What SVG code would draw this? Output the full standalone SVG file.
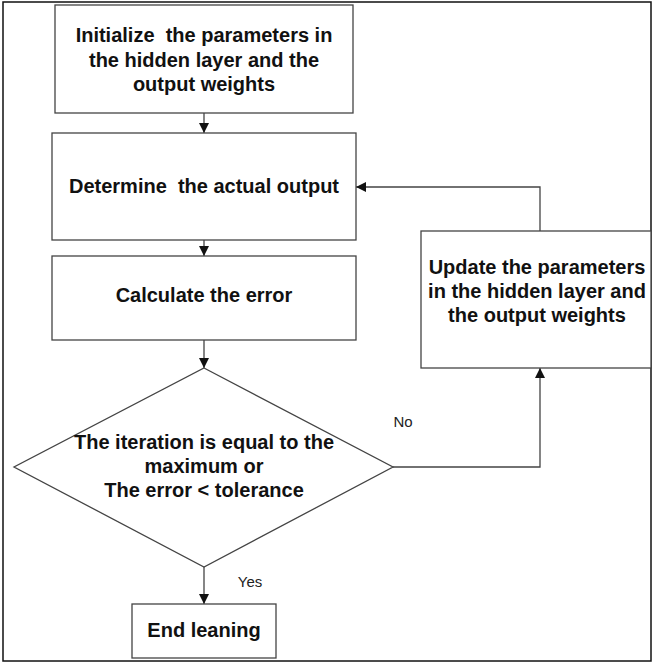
<svg xmlns="http://www.w3.org/2000/svg" width="653" height="663" viewBox="0 0 653 663">
  <style>
    .box { fill: #ffffff; stroke: #444444; stroke-width: 1.3; }
    .frame { fill: none; stroke: #111111; stroke-width: 1.5; }
    .wire { fill: none; stroke: #444444; stroke-width: 1.3; }
    .lbl { font-family: "Liberation Sans", Arial, sans-serif; font-weight: bold; font-size: 20px; fill: #111111; text-anchor: middle; white-space: pre; }
    .edge-lbl { font-family: "Liberation Sans", Arial, sans-serif; font-size: 15px; fill: #222222; text-anchor: middle; }
  </style>
  <defs>
    <marker id="arrow" viewBox="0 0 10 10" refX="10" refY="5" markerWidth="10" markerHeight="10" markerUnits="userSpaceOnUse" orient="auto">
      <path d="M0,0 L10,5 L0,10 Z" fill="#111111"/>
    </marker>
  </defs>

  <rect width="653" height="663" fill="#ffffff"/>
  <rect class="frame" x="3" y="2" width="648" height="659"/>

  <g id="connectors">
    <line class="wire" x1="204" y1="113" x2="204" y2="133" marker-end="url(#arrow)"/>
    <line class="wire" x1="204" y1="240" x2="204" y2="256" marker-end="url(#arrow)"/>
    <line class="wire" x1="204" y1="340" x2="204" y2="368" marker-end="url(#arrow)"/>
    <line class="wire" x1="204" y1="567" x2="204" y2="604" marker-end="url(#arrow)"/>
    <polyline class="wire" points="393,467 540,467 540,368" marker-end="url(#arrow)"/>
    <polyline class="wire" points="540,231 540,187 356,187" marker-end="url(#arrow)"/>
    <text class="edge-lbl" x="403" y="427">No</text>
    <text class="edge-lbl" x="250" y="587">Yes</text>
  </g>

  <g id="init">
    <rect class="box" x="55" y="5" width="298" height="108"/>
    <text class="lbl" x="204" y="42" xml:space="preserve">Initialize  the parameters in</text>
    <text class="lbl" x="204" y="67">the hidden layer and the</text>
    <text class="lbl" x="204" y="91">output weights</text>
  </g>

  <g id="determine">
    <rect class="box" x="52" y="133" width="304" height="107"/>
    <text class="lbl" x="204" y="193" xml:space="preserve">Determine  the actual output</text>
  </g>

  <g id="calculate">
    <rect class="box" x="52" y="256" width="304" height="84"/>
    <text class="lbl" x="204" y="302">Calculate the error</text>
  </g>

  <g id="decision">
    <polygon class="box" points="204,368 393,467 204,567 14,467"/>
    <text class="lbl" x="204" y="449">The iteration is equal to the</text>
    <text class="lbl" x="204" y="473">maximum or</text>
    <text class="lbl" x="204" y="497">The error &lt; tolerance</text>
  </g>

  <g id="update">
    <rect class="box" x="421" y="231" width="230" height="137"/>
    <text class="lbl" x="537" y="274">Update the parameters</text>
    <text class="lbl" x="537" y="298">in the hidden layer and</text>
    <text class="lbl" x="537" y="322">the output weights</text>
  </g>

  <g id="end">
    <rect class="box" x="132" y="604" width="144" height="54"/>
    <text class="lbl" x="204" y="637">End leaning</text>
  </g>
</svg>
